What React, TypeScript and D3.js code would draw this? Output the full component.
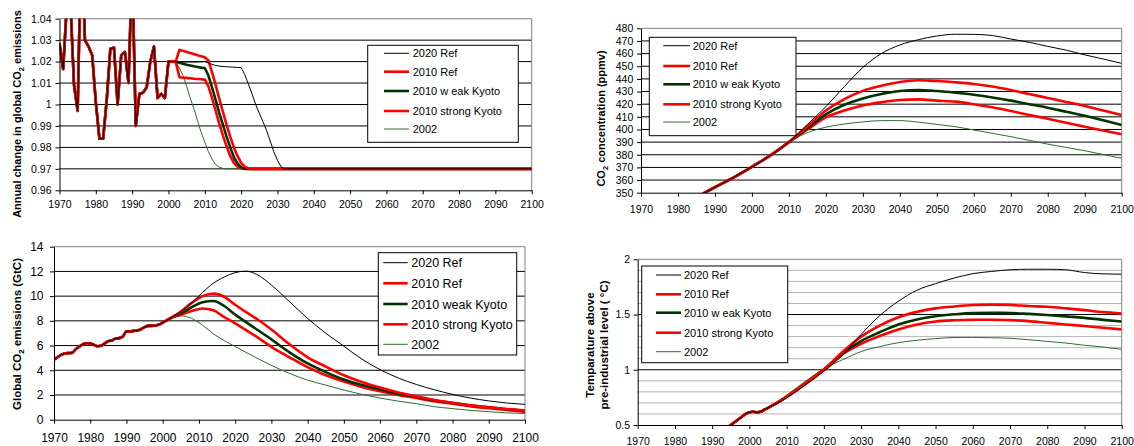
import React, { useEffect, useRef } from 'react';
import * as d3 from 'd3';

const FONT = '"Liberation Sans", Arial, sans-serif';

// ---- shared categories ----
const xTicks = [1970, 1980, 1990, 2000, 2010, 2020, 2030, 2040, 2050, 2060, 2070, 2080, 2090, 2100];
const namesA = ['2020 Ref', '2010 Ref', '2010 w eak Kyoto', '2010 strong Kyoto', '2002'];
const namesB = ['2020 Ref', '2010 Ref', '2010 weak Kyoto', '2010 strong Kyoto', '2002'];

// ---- panel 1: annual change in global CO2 emissions ----
const annualHistYears = d3.range(1970, 2003);
const annualHist = [
  1.0285, 1.0165, 1.046, 1.048, 1.009, 0.997, 1.08, 1.03, 1.027, 1.023,
  1.001, 0.984, 0.984, 1.002, 1.026, 1.0265, 1.0, 1.023, 1.0245, 1.01,
  1.065, 0.99, 1.005, 1.0055, 1.008, 1.02, 1.027, 1.003, 1.005, 1.003,
  1.02, 1.02, 1.02,
];
const annualProjYears = d3.range(2002, 2033).concat([2100]);
const annualRef2020 = [
  1.02, 1.0198, 1.0198, 1.0198, 1.0198, 1.0198, 1.0198, 1.0199, 1.02, 1.0193,
  1.0187, 1.0182, 1.0179, 1.0177, 1.0176, 1.0175, 1.0174, 1.0173, 1.0172, 1.014,
  1.0095, 1.005, 1.0, 0.996, 0.992, 0.988, 0.983, 0.978, 0.974, 0.971,
  0.97, 0.97,
];
const annualRef2010 = [
  1.02, 1.0255, 1.025, 1.0245, 1.024, 1.0235, 1.023, 1.0225, 1.022, 1.0205,
  1.015, 1.009, 1.0025, 0.9965, 0.9905, 0.985, 0.98, 0.976, 0.9728, 0.971,
  0.9702, 0.97, 0.97, 0.97, 0.97, 0.97, 0.97, 0.97, 0.97, 0.97,
  0.97, 0.97,
];
const annualWeak = [
  1.02, 1.0195, 1.019, 1.0185, 1.0182, 1.0178, 1.0175, 1.0172, 1.017, 1.0135,
  1.008, 1.002, 0.996, 0.9905, 0.985, 0.98, 0.9755, 0.9725, 0.9708, 0.9701,
  0.97, 0.97, 0.97, 0.97, 0.97, 0.97, 0.97, 0.97, 0.97, 0.97,
  0.97, 0.97,
];
const annualStrong = [
  1.02, 1.0127, 1.0125, 1.0124, 1.0122, 1.012, 1.0119, 1.0118, 1.0116, 1.0085,
  1.003, 0.997, 0.991, 0.9855, 0.9805, 0.976, 0.9728, 0.971, 0.9702, 0.97,
  0.97, 0.97, 0.97, 0.97, 0.97, 0.97, 0.97, 0.97, 0.97, 0.97,
  0.97, 0.97,
];
const annual2002 = [
  1.02, 1.017, 1.0135, 1.0085, 1.003, 0.998, 0.9925, 0.987, 0.9825, 0.978,
  0.9745, 0.972, 0.9707, 0.9702, 0.97, 0.97, 0.97, 0.97, 0.97, 0.97,
  0.97, 0.97, 0.97, 0.97, 0.97, 0.97, 0.97, 0.97, 0.97, 0.97,
  0.97, 0.97,
];
const annualTicks = [0.96, 0.97, 0.98, 0.99, 1, 1.01, 1.02, 1.03, 1.04];

// ---- panel 2: CO2 concentration (ppmv) ----
const concHistYears = [1985, 1990, 1995, 2000, 2005, 2010];
const concHist = [346.5, 354.3, 362, 370.5, 379.5, 390];
const concProjYears = [2015, 2020, 2025, 2030, 2035, 2040, 2045, 2050, 2055, 2060, 2065, 2070, 2075, 2080, 2085, 2090, 2095, 2100];
const concRef2020 = [404, 418, 434, 449, 460, 466.8, 471, 473.9, 475.3, 475.2, 474.3, 471.5, 468.9, 465.7, 462.7, 459, 455.7, 452.3];
const concRef2010 = [402.5, 415, 424, 430.5, 434.5, 437.5, 438.9, 438.3, 437.3, 436, 434, 431.2, 428, 424.9, 421.8, 418.6, 415, 411.4];
const concWeak = [401, 412, 419.5, 424.5, 428, 430.4, 431.2, 430.4, 429.1, 427.5, 425.3, 422.8, 420, 417.2, 414, 410.9, 407.2, 403.5];
const concStrong = [400, 409.5, 415, 419, 421.5, 423.3, 423.8, 422.8, 422, 420, 417.5, 414.6, 411.5, 408.5, 405.3, 402.2, 399.2, 396.2];
const conc2002 = [397.5, 401.8, 404.3, 406, 407, 407, 405.8, 404, 402.2, 399.6, 397, 394.3, 391.4, 388.4, 385.8, 383.2, 380.2, 377.2];
const concTicks = [350, 360, 370, 380, 390, 400, 410, 420, 430, 440, 450, 460, 470, 480];

// ---- panel 3: global CO2 emissions (GtC) ----
const emisHistYears = d3.range(1970, 2002);
const emisHist = [
  4.85, 5.06, 5.25, 5.36, 5.39, 5.41, 5.71, 5.92, 6.11, 6.19,
  6.17, 6.06, 5.95, 5.98, 6.17, 6.36, 6.41, 6.57, 6.6, 6.73,
  7.16, 7.14, 7.19, 7.22, 7.32, 7.49, 7.59, 7.59, 7.62, 7.7,
  7.86, 8.02,
];
const emisProjYears = [2002, 2005, 2008, 2011, 2014, 2017, 2020, 2023, 2026, 2030, 2035, 2040, 2045, 2050, 2055, 2060, 2065, 2070, 2075, 2080, 2085, 2090, 2095, 2100];
const emisRef2020 = [8.19, 8.75, 9.45, 10.3, 11.05, 11.55, 11.9, 12.02, 11.75, 10.9, 9.55, 8.2, 7.0, 5.95, 4.9, 4.05, 3.38, 2.85, 2.42, 2.05, 1.75, 1.52, 1.35, 1.24];
const emisRef2010 = [8.19, 8.75, 9.45, 10.0, 10.2, 9.95, 9.3, 8.7, 8.15, 7.3, 6.1, 5.05, 4.3, 3.6, 3.05, 2.6, 2.2, 1.9, 1.6, 1.37, 1.16, 1.0, 0.86, 0.75];
const emisWeak = [8.19, 8.6, 9.1, 9.5, 9.6, 9.2, 8.5, 7.9, 7.3, 6.5, 5.45, 4.55, 3.85, 3.25, 2.8, 2.45, 2.1, 1.85, 1.55, 1.35, 1.15, 1.0, 0.85, 0.7];
const emisStrong = [8.19, 8.5, 8.8, 9.0, 8.85, 8.3, 7.8, 7.25, 6.7, 5.9, 5.05, 4.25, 3.6, 3.1, 2.65, 2.3, 2.0, 1.75, 1.5, 1.3, 1.08, 0.93, 0.78, 0.65];
const emis2002 = [8.19, 8.4, 8.2, 7.65, 6.95, 6.4, 5.92, 5.45, 4.98, 4.4, 3.75, 3.2, 2.8, 2.4, 2.05, 1.75, 1.5, 1.3, 1.05, 0.9, 0.75, 0.65, 0.55, 0.5];
const emisTicks = [0, 2, 4, 6, 8, 10, 12, 14];

// ---- panel 4: temperature above pre-industrial level ----
const tempHistYears = [1994, 1995, 1996, 1997, 1998, 1999, 2000, 2001, 2002, 2003, 2004];
const tempHist = [0.475, 0.5, 0.525, 0.55, 0.575, 0.6, 0.615, 0.62, 0.615, 0.62, 0.638];
const tempProjYears = [2005, 2010, 2015, 2020, 2025, 2030, 2035, 2040, 2045, 2050, 2055, 2060, 2065, 2070, 2075, 2080, 2085, 2090, 2095, 2100];
const tempRef2020 = [0.655, 0.745, 0.86, 0.985, 1.13, 1.32, 1.49, 1.62, 1.72, 1.78, 1.83, 1.87, 1.89, 1.905, 1.91, 1.91, 1.905, 1.88, 1.868, 1.865];
const tempRef2010 = [0.655, 0.755, 0.875, 1.0, 1.16, 1.3, 1.4, 1.475, 1.524, 1.556, 1.573, 1.586, 1.59, 1.587, 1.577, 1.57, 1.556, 1.54, 1.522, 1.51];
const tempWeak = [0.655, 0.755, 0.875, 1.0, 1.15, 1.26, 1.34, 1.41, 1.456, 1.485, 1.502, 1.513, 1.515, 1.514, 1.506, 1.496, 1.483, 1.47, 1.452, 1.437];
const tempStrong = [0.655, 0.755, 0.875, 1.005, 1.14, 1.235, 1.305, 1.365, 1.41, 1.437, 1.448, 1.453, 1.453, 1.449, 1.44, 1.425, 1.41, 1.396, 1.38, 1.366];
const temp2002 = [0.655, 0.77, 0.895, 1.01, 1.09, 1.165, 1.21, 1.245, 1.267, 1.282, 1.292, 1.293, 1.29, 1.285, 1.272, 1.257, 1.242, 1.222, 1.206, 1.185];
const tempTicks = [0.5, 1, 1.5, 2];
const tempMinor = [0.6, 0.7, 0.8, 0.9, 1.1, 1.2, 1.3, 1.4, 1.6, 1.7, 1.8, 1.9];

// ---- styling (legend order) ----
const lineColors = ['#000000', '#ff0000', '#003300', '#ff0000', '#2f6b2f'];
const lineWidths = [1, 2.6, 2.6, 2.6, 1];

type Pt = [number, number];
const join = (hy: number[], hv: number[], py: number[], pv: number[]): Pt[] =>
  hy.map((yr, i) => [yr, hv[i]] as Pt).concat(py.map((yr, i) => [yr, pv[i]] as Pt));

type Seg = [string, boolean];
type Panel = {
  id: string;
  box: [number, number, number, number]; // left, top, right, bottom
  yDomain: [number, number];
  yTicks: number[];
  minor?: number[];
  tickFont: number;
  yPad: number;
  xPad: number;
  curve: d3.CurveFactory;
  series: Pt[][];
  names: string[];
  legend: { box: [number, number, number, number]; rows: number[]; lx: [number, number]; tx: number; font: number };
  title: { at: [number, number]; font: number; lines: Seg[][]; gap: number };
};

const fmt = (d: number) => String(+d.toFixed(2));

const panels: Panel[] = [
  {
    id: 'annual',
    box: [59.5, 18.7, 531.7, 190.3],
    yDomain: [0.96, 1.04],
    yTicks: annualTicks,
    tickFont: 10.5,
    yPad: 4,
    xPad: 6.2,
    curve: d3.curveLinear,
    series: [annualRef2020, annualRef2010, annualWeak, annualStrong, annual2002].map((v) =>
      join(annualHistYears, annualHist, annualProjYears.slice(1), v.slice(1))
    ),
    names: namesA,
    legend: { box: [367.7, 45.3, 518.3, 142.3], rows: [53.3, 71.7, 91, 111, 129], lx: [384, 409], tx: 412.7, font: 11 },
    title: { at: [20.5, 114], font: 11, gap: 0, lines: [[['Annual change in global CO', false], ['2', true], [' emissions', false]]] },
  },
  {
    id: 'conc',
    box: [641, 28.3, 1121.7, 192.7],
    yDomain: [350, 480],
    yTicks: concTicks,
    tickFont: 10.5,
    yPad: 3.7,
    xPad: 8.8,
    curve: d3.curveMonotoneX,
    series: [concRef2020, concRef2010, concWeak, concStrong, conc2002].map((v) =>
      join(concHistYears, concHist, concProjYears, v)
    ),
    names: namesA,
    legend: { box: [649.3, 37.3, 796, 135.7], rows: [45.7, 66, 84.3, 104.3, 122], lx: [663.3, 690], tx: 692.7, font: 11 },
    title: { at: [605, 118.5], font: 11, gap: 0, lines: [[['CO', false], ['2', true], [' concentration (ppmv)', false]]] },
  },
  {
    id: 'emis',
    box: [54, 246.7, 525, 419.7],
    yDomain: [0, 14],
    yTicks: emisTicks,
    tickFont: 12,
    yPad: 6.5,
    xPad: 9.5,
    curve: d3.curveMonotoneX,
    series: [emisRef2020, emisRef2010, emisWeak, emisStrong, emis2002].map((v) =>
      join(emisHistYears, emisHist, emisProjYears, v)
    ),
    names: namesB,
    legend: { box: [378.3, 252.7, 516.7, 355], rows: [262.7, 283.3, 304, 324.3, 344.3], lx: [383.3, 407.7], tx: 411.3, font: 12.5 },
    title: { at: [21, 334], font: 11.5, gap: 0, lines: [[['Global CO', false], ['2', true], [' emissions (GtC)', false]]] },
  },
  {
    id: 'temp',
    box: [637.7, 259.3, 1121.7, 425],
    yDomain: [0.5, 2],
    yTicks: tempTicks,
    minor: tempMinor,
    tickFont: 10.5,
    yPad: 3.7,
    xPad: 8.5,
    curve: d3.curveMonotoneX,
    series: [tempRef2020, tempRef2010, tempWeak, tempStrong, temp2002].map((v) =>
      join(tempHistYears, tempHist, tempProjYears, v)
    ),
    names: namesA,
    legend: { box: [641.7, 266, 787.7, 362.7], rows: [275, 294.3, 312.7, 332.7, 351.7], lx: [656, 681], tx: 684, font: 11 },
    title: {
      at: [594, 345],
      font: 11.5,
      gap: 13.5,
      lines: [[['Temparature above', false]], [['pre-industrial level ( \u00B0C)', false]]],
    },
  },
];

function drawPanel(svg: d3.Selection<SVGSVGElement, unknown, null, undefined>, p: Panel) {
  const [left, top, right, bottom] = p.box;
  const x = d3.scaleLinear().domain([1970, 2100]).range([left, right]);
  const y = d3.scaleLinear().domain(p.yDomain).range([bottom, top]);
  const g = svg.append('g');

  // gridlines
  if (p.minor) {
    g.selectAll('.minor')
      .data(p.minor)
      .enter()
      .append('line')
      .attr('x1', left).attr('x2', right)
      .attr('y1', (d) => y(d)).attr('y2', (d) => y(d))
      .style('stroke', '#b4b4b4');
  }
  g.selectAll('.grid')
    .data(p.yTicks.filter((d) => d !== p.yDomain[0] && d !== p.yDomain[1]))
    .enter()
    .append('line')
    .attr('x1', left).attr('x2', right)
    .attr('y1', (d) => y(d)).attr('y2', (d) => y(d))
    .style('stroke', '#000');

  // top / right frame
  g.append('path')
    .attr('d', `M${left},${top}H${right}V${bottom}`)
    .style('fill', 'none')
    .style('stroke', '#808080');

  // series lines, drawn last-to-first like the original
  const clipId = `clip-${p.id}`;
  svg.append('clipPath').attr('id', clipId)
    .append('rect')
    .attr('x', left).attr('y', top)
    .attr('width', right - left).attr('height', bottom - top);

  const line = d3.line<Pt>().x((d) => x(d[0])).y((d) => y(d[1])).curve(p.curve);
  const lines = g.append('g').attr('clip-path', `url(#${clipId})`);
  [4, 3, 2, 1, 0].forEach((i) => {
    lines.append('path')
      .attr('d', line(p.series[i]) || '')
      .style('fill', 'none')
      .style('stroke', lineColors[i])
      .style('stroke-width', lineWidths[i])
      .style('stroke-linejoin', 'round');
  });

  // axes
  const yAxis = g.append('g')
    .attr('transform', `translate(${left},0)`)
    .call(d3.axisLeft(y).tickValues(p.yTicks).tickFormat((d) => fmt(+d)).tickSize(4).tickSizeOuter(0).tickPadding(p.yPad));
  const xAxis = g.append('g')
    .attr('transform', `translate(0,${bottom})`)
    .call(d3.axisBottom(x).tickValues(xTicks).tickFormat((d) => String(d)).tickSize(4).tickSizeOuter(0).tickPadding(p.xPad));
  [yAxis, xAxis].forEach((a) => {
    a.selectAll('text').style('font-family', FONT).style('font-size', `${p.tickFont}px`).style('fill', '#000');
    a.selectAll('line').style('stroke', '#000');
    a.select('.domain').style('stroke', '#000');
  });

  // y title
  const t = g.append('g').attr('transform', `translate(${p.title.at[0]},${p.title.at[1]}) rotate(-90)`);
  p.title.lines.forEach((segs, li) => {
    const txt = t.append('text')
      .attr('x', 0)
      .attr('y', li * p.title.gap)
      .attr('text-anchor', 'middle')
      .style('font-family', FONT)
      .style('font-weight', 'bold')
      .style('font-size', `${p.title.font}px`);
    let shifted = false;
    segs.forEach(([s, sub]) => {
      const ts = txt.append('tspan').text(s);
      if (sub) {
        ts.attr('dy', 3).style('font-size', `${p.title.font * 0.68}px`);
        shifted = true;
      } else if (shifted) {
        ts.attr('dy', -3);
        shifted = false;
      }
    });
  });

  // legend
  const L = p.legend;
  const lg = g.append('g');
  lg.append('rect')
    .attr('x', L.box[0]).attr('y', L.box[1])
    .attr('width', L.box[2] - L.box[0]).attr('height', L.box[3] - L.box[1])
    .style('fill', '#fff').style('stroke', '#000');
  p.names.forEach((name, i) => {
    lg.append('line')
      .attr('x1', L.lx[0]).attr('x2', L.lx[1])
      .attr('y1', L.rows[i]).attr('y2', L.rows[i])
      .style('stroke', lineColors[i])
      .style('stroke-width', lineWidths[i]);
    lg.append('text')
      .attr('x', L.tx)
      .attr('y', L.rows[i] + L.font * 0.36)
      .style('font-family', FONT)
      .style('font-size', `${L.font}px`)
      .text(name);
  });
}

const App = () => {
  const svgRef = useRef<SVGSVGElement>(null);

  useEffect(() => {
    if (!svgRef.current) return;
    const svg = d3.select(svgRef.current);
    svg.selectAll('*').remove();
    panels.forEach((p) => drawPanel(svg, p));
  }, []);

  return (
    <div style={{ position: 'absolute', left: 0, top: 0, width: 1134, height: 446, background: '#fff' }}>
      <svg ref={svgRef} width={1134} height={446} style={{ display: 'block' }}></svg>
    </div>
  );
};

export default App;
